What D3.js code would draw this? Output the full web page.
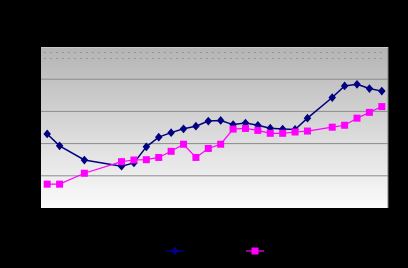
<!DOCTYPE html>
<html>
<head>
<meta charset="utf-8">
<script src="https://cdn.jsdelivr.net/npm/d3@7"></script>
<style>
  html, body { margin: 0; padding: 0; background: #000; }
  svg { display: block; }
</style>
</head>
<body>
<div id="chart"></div>
<script>
// categories (28 periods, some without data)
const categories = d3.range(1, 29).map(String);

// navy series (diamonds)
const seriesA = [23.0, 19.3, null, 14.9, null, null, 13.0, 14.0, 19.0, 22.0,
                 23.4, 24.6, 25.4, 27.0, 27.2, 25.9, 26.4, 25.7, 24.8, 24.5,
                 24.4, 27.9, null, 34.3, 37.9, 38.4, 37.1, 36.3];

// magenta series (squares)
const seriesB = [7.4, 7.4, null, 10.8, null, null, 14.4, 14.9, 15.0, 15.7,
                 17.6, 19.8, 15.7, 18.5, 19.8, 24.5, 24.7, 24.1, 23.2, 23.2,
                 23.6, 23.9, null, 25.1, 25.7, 27.9, 29.7, 31.5];

// faint dotted reference lines near the top
const refTop = 48.6;
const refLow = 46.6;

const yTicks = [0, 10, 20, 30, 40, 50];

const width = 408, height = 268;
const margin = {top: 47, right: 20, bottom: 60, left: 41};
const plotW = 388 - margin.left;
const plotH = 208 - margin.top;

const svg = d3.select("#chart").append("svg")
    .attr("width", width)
    .attr("height", height);

svg.append("rect")
    .attr("width", width).attr("height", height)
    .attr("fill", "#000");

const defs = svg.append("defs");
const grad = defs.append("linearGradient")
    .attr("id", "plotGrad")
    .attr("x1", 0).attr("y1", 0).attr("x2", 0).attr("y2", 1);
grad.append("stop").attr("offset", "0%").attr("stop-color", "#b4b4b4");
grad.append("stop").attr("offset", "100%").attr("stop-color", "#fbfbfb");

const g = svg.append("g")
    .attr("transform", `translate(${margin.left},${margin.top})`);

const x = d3.scalePoint()
    .domain(categories)
    .range([0, plotW])
    .padding(0.5);

const y = d3.scaleLinear()
    .domain([0, 50])
    .range([plotH, 0]);

// plot background
g.append("rect")
    .attr("width", plotW)
    .attr("height", plotH)
    .attr("fill", "url(#plotGrad)");

// gridlines
g.selectAll(".grid")
    .data(yTicks.slice(1, -1))
    .enter().append("line")
    .attr("class", "grid")
    .attr("x1", 0).attr("x2", plotW)
    .attr("y1", d => y(d)).attr("y2", d => y(d))
    .attr("stroke", "#8c8c8c")
    .attr("stroke-width", 1);

// right border
g.append("line")
    .attr("x1", plotW).attr("x2", plotW)
    .attr("y1", 0).attr("y2", plotH)
    .attr("stroke", "#808080");
g.append("line")
    .attr("x1", 0).attr("x2", plotW)
    .attr("y1", 0.5).attr("y2", 0.5)
    .attr("stroke", "#c8c8c8");

// dotted reference lines
[refTop, refLow].forEach(v => {
    g.append("line")
        .attr("x1", x(categories[0]) - 3)
        .attr("x2", x(categories[categories.length - 1]) + 3)
        .attr("y1", Math.round(y(v)) + 0.5).attr("y2", Math.round(y(v)) + 0.5)
        .attr("stroke", "#8a8a8a")
        .attr("stroke-width", 1)
        .attr("stroke-dasharray", "1.5,4.5");
});

function toPoints(vals) {
    return vals.map((v, i) => ({cat: categories[i], v: v})).filter(d => d.v != null);
}

const line = d3.line()
    .x(d => x(d.cat))
    .y(d => y(d.v));

const ptsB = toPoints(seriesB);
const ptsA = toPoints(seriesA);

const diamond = d3.symbol().type(d3.symbolDiamond2).size(40);

// navy series (drawn underneath)
g.append("path")
    .datum(ptsA)
    .attr("fill", "none")
    .attr("stroke", "#000080")
    .attr("stroke-width", 1.5)
    .attr("d", line);

g.selectAll(".markA")
    .data(ptsA)
    .enter().append("path")
    .attr("class", "markA")
    .attr("transform", d => `translate(${x(d.cat)},${y(d.v)}) scale(0.95,1.1)`)
    .attr("d", diamond)
    .attr("fill", "#000080");

// magenta series on top
g.append("path")
    .datum(ptsB)
    .attr("fill", "none")
    .attr("stroke", "#ff00ff")
    .attr("stroke-width", 1.2)
    .attr("d", line);

g.selectAll(".markB")
    .data(ptsB)
    .enter().append("rect")
    .attr("class", "markB")
    .attr("x", d => x(d.cat) - 3.5)
    .attr("y", d => y(d.v) - 3.5)
    .attr("width", 7).attr("height", 7)
    .attr("fill", "#ff00ff");

// legend
const legend = svg.append("g").attr("transform", "translate(0,251)");
legend.append("line").attr("x1", 166).attr("x2", 184).attr("stroke", "#000080").attr("stroke-width", 1.5);
legend.append("path").attr("transform", "translate(175,0) scale(0.95,1.1)").attr("d", diamond).attr("fill", "#000080");
legend.append("line").attr("x1", 246).attr("x2", 264).attr("stroke", "#ff00ff").attr("stroke-width", 1.2);
legend.append("rect").attr("x", 251.5).attr("y", -3.5).attr("width", 7).attr("height", 7).attr("fill", "#ff00ff");
</script>
</body>
</html>
